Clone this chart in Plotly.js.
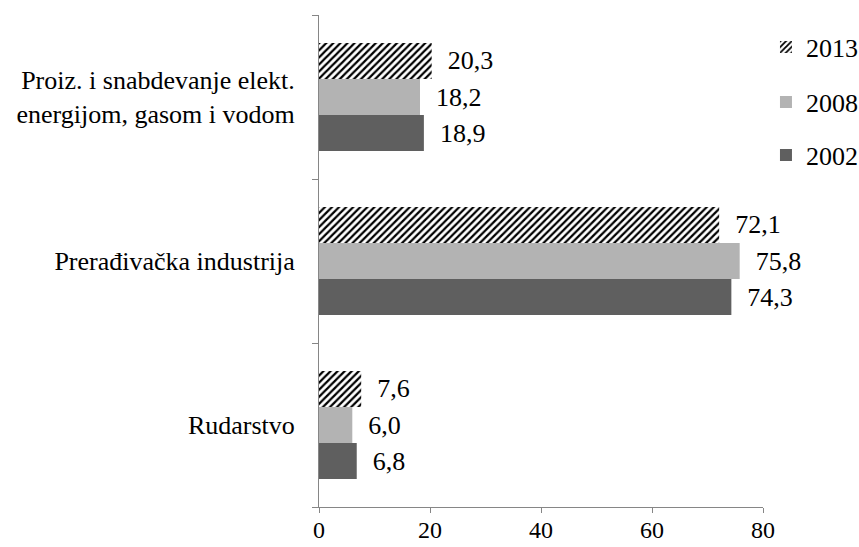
<!DOCTYPE html>
<html>
<head>
<meta charset="utf-8">
<script src="https://cdn.plot.ly/plotly-3.0.1.min.js"></script>
<style>html,body{margin:0;padding:0;background:#fff;}#chart{width:859px;height:547px;}</style>
</head>
<body>
<div id="chart"></div>
<script>
const categories = ["Rudarstvo", "Prerađivačka industrija", "Proiz. i snabdevanje elekt.<br>energijom, gasom i vodom"];
const years = ["2002", "2008", "2013"];
const values2002 = [6.8, 74.3, 18.9];
const values2008 = [6.0, 75.8, 18.2];
const values2013 = [7.6, 72.1, 20.3];
const xTicks = [0, 20, 40, 60, 80];

const FONT = "Liberation Serif, Times New Roman, serif";
const FS = 26;
const fmt = v => "\u00a0\u00a0" + v.toFixed(1).replace(".", ",");

function barTrace(name, vals, marker, legend) {
  return {
    type: "bar", orientation: "h", name: name,
    y: categories, x: vals,
    text: vals.map(fmt), textposition: "outside", constraintext: "none",
    cliponaxis: false,
    textfont: {family: FONT, size: FS, color: "#000"},
    marker: marker, legend: legend, hoverinfo: "x+name"
  };
}

const data = [
  barTrace(years[0], values2002, {color: "#5f5f5f", line: {width: 0}}, "legend3"),
  barTrace(years[1], values2008, {color: "#b3b3b3", line: {width: 0}}, "legend2"),
  barTrace(years[2], values2013, {color: "#ffffff", line: {width: 0},
    pattern: {shape: "/", fgcolor: "#000000", bgcolor: "#ffffff", size: 5, solidity: 0.45}}, "legend")
];

const legendBase = {xref: "container", yref: "container", x: 0.8917, xanchor: "left", yanchor: "middle",
  bgcolor: "rgba(0,0,0,0)", font: {family: FONT, size: FS, color: "#000"}, itemwidth: 30};

const layout = {
  width: 859, height: 547,
  margin: {l: 319, r: 96, t: 15, b: 40, autoexpand: false},
  paper_bgcolor: "#fff", plot_bgcolor: "#fff",
  barmode: "group", bargap: 0.34, bargroupgap: 0,
  font: {family: FONT, size: FS, color: "#000"},
  xaxis: {range: [0, 80], tickvals: xTicks, ticktext: xTicks.map(String),
    showgrid: false, zeroline: false, showline: true, linecolor: "#868686", linewidth: 1,
    ticks: "outside", ticklen: 5, tickcolor: "#868686", ticklabelstandoff: -4,
    tickfont: {family: FONT, size: 24, color: "#000"}, fixedrange: true},
  yaxis: {type: "category", categoryorder: "array", categoryarray: categories,
    range: [-0.5, 2.5], showgrid: false, zeroline: false, showline: true,
    linecolor: "#868686", linewidth: 1, ticks: "outside", tickson: "boundaries",
    ticklen: 6, tickcolor: "#868686", ticklabelstandoff: 18,
    tickfont: {family: FONT, size: FS, color: "#000"}, fixedrange: true},
  showlegend: true,
  legend: Object.assign({}, legendBase, {y: 0.914}),
  legend2: Object.assign({}, legendBase, {y: 0.8135}),
  legend3: Object.assign({}, legendBase, {y: 0.7166})
};

Plotly.newPlot("chart", data, layout, {displayModeBar: false, staticPlot: true});
</script>
</body>
</html>
